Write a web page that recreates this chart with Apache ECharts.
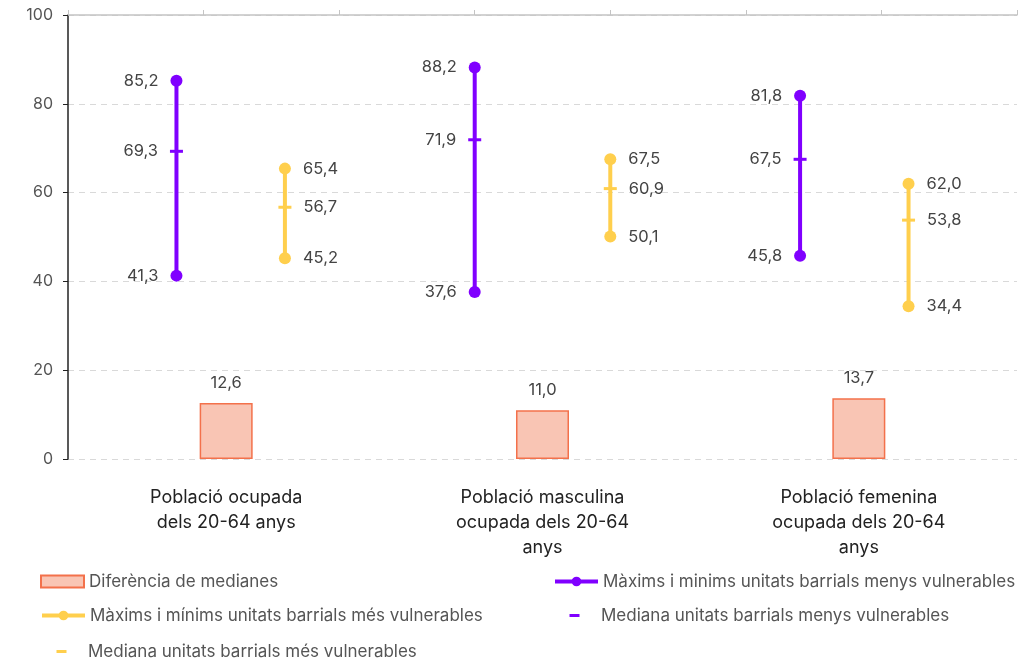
<!DOCTYPE html>
<html>
<head>
<meta charset="utf-8">
<script src="https://cdn.jsdelivr.net/npm/echarts@6/dist/echarts.min.js"></script>
<style>
html,body{margin:0;padding:0;background:#fff;}
#chart{width:1019px;height:660px;}
</style>
</head>
<body>
<div id="chart"></div>
<script>
// ---- Data ----
var categories = ["Població ocupada\ndels 20-64 anys", "Població masculina\nocupada dels 20-64\nanys", "Població femenina\nocupada dels 20-64\nanys"];
var diffMedians = [12.6, 11.0, 13.7];
var lessMax = [85.2, 88.2, 81.8];
var lessMin = [41.3, 37.6, 45.8];
var lessMed = [69.3, 71.9, 67.5];
var moreMax = [65.4, 67.5, 62.0];
var moreMin = [45.2, 50.1, 34.4];
var moreMed = [56.7, 60.9, 53.8];
var lessPos = [0.8, 3.0, 5.4];
var morePos = [1.6, 4.0, 6.2];
var yTicks = [0, 20, 40, 60, 80, 100];

var nameBar = 'Diferència de medianes';
var nameLess = 'Màxims i minims unitats barrials menys vulnerables';
var nameMore = 'Màxims i mínims unitats barrials més vulnerables';
var nameLessMed = 'Mediana unitats barrials menys vulnerables';
var nameMoreMed = 'Mediana unitats barrials més vulnerables';

var PURPLE = '#8000ff';
var YELLOW = '#ffcf4d';
var FONT = 'Inter, "Noto Sans", sans-serif';

function fmt(v) { return v.toFixed(1).replace('.', ','); }

var labelBase = { show: true, fontSize: 16.5, color: '#444', fontFamily: FONT, distance: 12,
  formatter: function (p) { return fmt(p.value[1]); } };

var series = [{
  name: nameBar, type: 'bar', xAxisIndex: 0, yAxisIndex: 0,
  data: diffMedians, barWidth: 53,
  itemStyle: { color: '#f9c5b4', borderColor: '#f3714b', borderWidth: 1.5 },
  label: { show: true, position: 'top', distance: 12, fontSize: 16.5, color: '#444', fontFamily: FONT,
    formatter: function (p) { return fmt(p.value); } },
  z: 2
}];

function addRange(name, pos, maxs, mins, color, labelPos) {
  for (var i = 0; i < pos.length; i++) {
    series.push({
      name: name, type: 'line', xAxisIndex: 1, yAxisIndex: 0,
      data: [[pos[i], maxs[i]], [pos[i], mins[i]]],
      symbol: 'circle', symbolSize: 12, showAllSymbol: true,
      lineStyle: { color: color, width: 4 },
      itemStyle: { color: color },
      label: Object.assign({}, labelBase, { position: labelPos }),
      z: 3
    });
  }
}
addRange(nameLess, lessPos, lessMax, lessMin, PURPLE, 'left');
addRange(nameMore, morePos, moreMax, moreMin, YELLOW, 'right');

function addMed(name, pos, meds, color, labelPos) {
  series.push({
    name: name, type: 'scatter', xAxisIndex: 1, yAxisIndex: 0,
    data: pos.map(function (x, i) { return [x, meds[i]]; }),
    symbol: 'rect', symbolSize: [13, 3],
    itemStyle: { color: color, opacity: 1 },
    label: Object.assign({}, labelBase, { position: labelPos, distance: 12 }),
    z: 4
  });
}
addMed(nameLessMed, lessPos, lessMed, PURPLE, 'left');
addMed(nameMoreMed, morePos, moreMed, YELLOW, 'right');

var dashIcon = 'path://M0,0M43,12M16.5,4.5L26.5,4.5L26.5,7.5L16.5,7.5Z';
var legendText = { fontSize: 17, color: '#555', fontFamily: FONT };

function legendAt(left, top, item) {
  return {
    left: left, top: top, padding: 0, itemWidth: 43, itemHeight: 12,
    textStyle: legendText, lineStyle: { width: 4 },
    data: [item]
  };
}

var option = {
  animation: false,
  backgroundColor: '#fff',
  grid: { left: 68, right: 2, top: 15, bottom: 201 },
  xAxis: [{
    type: 'category', data: categories, position: 'bottom',
    axisLine: { show: false }, axisTick: { show: false },
    axisLabel: { margin: 26, fontSize: 18, lineHeight: 25, color: '#222', fontFamily: FONT, interval: 0 }
  }, {
    type: 'value', position: 'top', min: 0, max: 7, interval: 1,
    axisLine: { show: true, lineStyle: { color: '#c4c4c4', width: 1.5 } },
    axisTick: { show: true, length: 5, lineStyle: { color: '#c4c4c4' } },
    axisLabel: { show: false }, splitLine: { show: false }
  }],
  yAxis: [{
    type: 'value', min: yTicks[0], max: yTicks[yTicks.length - 1], interval: yTicks[1] - yTicks[0],
    axisLine: { show: true, lineStyle: { color: '#222', width: 1.5 } },
    axisTick: { show: true, length: 5, lineStyle: { color: '#222' } },
    axisLabel: { margin: 15, fontSize: 16, color: '#555', fontFamily: FONT },
    splitLine: { show: true, lineStyle: { color: '#d9d9d9', type: [6, 5], width: 1.2 } }
  }],
  legend: [
    legendAt(40, 573, { name: nameBar, icon: 'rect' }),
    legendAt(553, 573, nameLess),
    legendAt(40, 607, nameMore),
    legendAt(553, 607, { name: nameLessMed, icon: dashIcon }),
    legendAt(40, 643, { name: nameMoreMed, icon: dashIcon })
  ],
  series: series
};

var chart = echarts.init(document.getElementById('chart'), null, { renderer: 'canvas' });
chart.setOption(option);
</script>
</body>
</html>
